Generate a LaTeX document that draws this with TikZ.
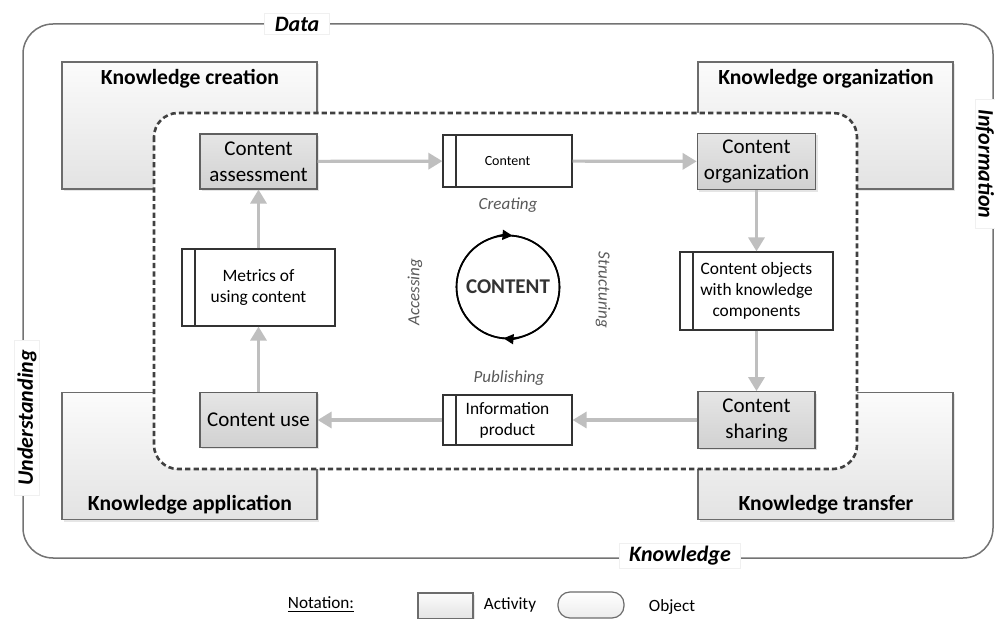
\documentclass[tikz,border=0pt]{standalone}
\usepackage{fontspec}
\setmainfont{Carlito}
\usetikzlibrary{arrows.meta,shadows}

\begin{document}
\begin{tikzpicture}[x=0.5pt,y=-0.5pt]
        \tikzset{knowbox/.style = {draw=gray!85!black, line width=0.6pt, top color=gray!3, bottom color=gray!22, minimum width=127.5pt, minimum height=63.5pt, drop shadow={opacity=0.2, shadow xshift=1pt, shadow yshift=-1pt}},
                 knowtitle/.style = {font=\fontsize{10.8}{13}\selectfont\bfseries},
                 actbox/.style = {draw=gray!75!black, line width=0.6pt, top color=gray!20, bottom color=gray!36, minimum width=58.5pt, minimum height=27.5pt, align=center, font=\fontsize{10.5}{13}\selectfont, drop shadow={opacity=0.2, shadow xshift=1pt, shadow yshift=-1pt}},
                 objbox/.style = {draw=black!80, line width=0.6pt, fill=white, align=center, font=\fontsize{8.7}{10.5}\selectfont,
                                  path picture={\draw[black!80, line width=0.6pt] ([xshift=6.5pt]path picture bounding box.north west) -- ([xshift=6.5pt]path picture bounding box.south west);}},
                 flow/.style = {draw=gray!50, line width=1.6pt, -{Triangle[width=8pt,length=7pt]}},
                 phase/.style = {font=\fontsize{8.5}{10}\selectfont\itshape, text=black!65},
                 rimlabel/.style = {fill=white, draw=gray!12, font=\fontsize{11}{13}\selectfont\bfseries\itshape, inner ysep=1.5pt, inner xsep=5pt}};
        \useasboundingbox (0,0) rectangle (995,619);
        \draw[gray!90!black, line width=0.75pt, rounded corners=15pt] (23,24) rectangle (993,558);
        \node[rimlabel] (data) at (297,24) {Data};
        \node[rimlabel] (know) at (680,556) {Knowledge};
        \node[rimlabel, rotate=90] (under) at (27,418) {Understanding};
        \node[rimlabel, rotate=-90, inner ysep=0.5pt] (info) at (985,164) {Information};
        \node[knowbox] (kc) at (189.5,125.5) {};
        \node[knowbox] (ko) at (825.5,125.5) {};
        \node[knowbox] (ka) at (189.5,456) {};
        \node[knowbox] (kt) at (825.5,456) {};
        \node[knowtitle] at (190,79) {Knowledge creation};
        \node[knowtitle] at (826,79) {Knowledge organization};
        \node[knowtitle] at (190,505) {Knowledge application};
        \node[knowtitle] at (826,505) {Knowledge transfer};
        \draw[fill=white, draw=black!75, line width=1.3pt, dash pattern=on 2.6pt off 1.6pt, rounded corners=12pt] (154,113) rectangle (857,469);
        \node[actbox] (assess) at (258.5,161.5) {Content\\assessment};
        \node[actbox] (organ) at (756.5,161.5) {Content\\organization};
        \node[actbox] (use) at (258.5,420) {Content use};
        \node[actbox] (share) at (756.5,420) {Content\\sharing};
        \node[objbox, minimum width=64.5pt, minimum height=26pt, font=\fontsize{7}{8}\selectfont] (cont) at (507.5,161) {Content};
        \node[objbox, minimum width=64.5pt, minimum height=25pt] (prod) at (507.5,420) {Information\\product};
        \node[objbox, minimum width=76.5pt, minimum height=38.5pt] (metric) at (258.5,287.5) {Metrics of\\using content};
        \node[objbox, minimum width=76.5pt, minimum height=39pt] (objects) at (756.5,291) {Content objects\\with knowledge\\components};
        \draw[flow] (assess) -- (cont);
        \draw[flow] (cont) -- (organ);
        \draw[flow] (organ) -- (objects);
        \draw[flow] (objects) -- (share);
        \draw[flow] (share) -- (prod);
        \draw[flow] (prod) -- (use);
        \draw[flow] (use) -- (metric);
        \draw[flow] (metric) -- (assess);
        % content cycle
        \node[circle, draw=black, line width=0.8pt, outer sep=0pt, minimum size=51.5pt, font=\fontsize{10.5}{12}\selectfont\bfseries, text=black!80] (cc) at (508,287) {CONTENT};
        \draw[line width=0.8pt, -{Triangle[width=5pt,length=5pt]}] (cc.south) arc[start angle=270, end angle=85, radius=25.75pt];
        \draw[line width=0.8pt, -{Triangle[width=5pt,length=5pt]}] (cc.north) arc[start angle=90, end angle=-95, radius=25.75pt];
        \node[phase] at (508,205) {Creating};
        \node[phase] at (509,378) {Publishing};
        \node[phase, rotate=90] at (415,292) {Accessing};
        \node[phase, rotate=-90] at (603,290) {Structuring};
        % notation
        \node[font=\fontsize{8.6}{10}\selectfont] (nota) at (321,605) {\underline{Notation:}};
        \node[knowbox, minimum width=27.5pt, minimum height=13pt] (lgact) at (445.5,606) {};
        \node[font=\fontsize{8.6}{10}\selectfont] at (510,605) {Activity};
        \node[draw=gray!85!black, line width=0.6pt, rounded corners=6pt, top color=white, bottom color=gray!15, minimum width=33pt, minimum height=13pt] (lgobj) at (591,605) {};
        \node[font=\fontsize{8.6}{10}\selectfont] at (672,607) {Object};
\end{tikzpicture}
\end{document}
